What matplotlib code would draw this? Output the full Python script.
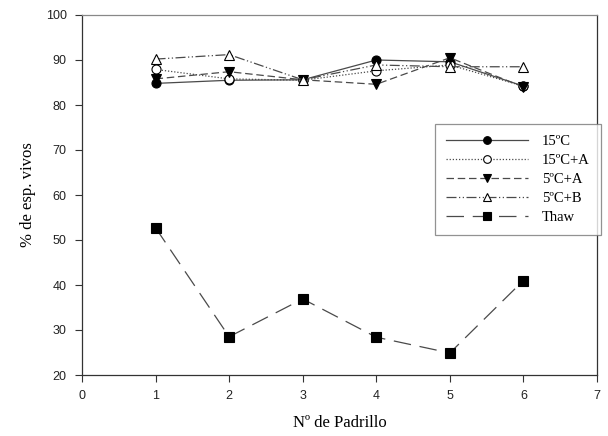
import numpy as np
import matplotlib
matplotlib.use('Agg')
import matplotlib.pyplot as plt

padrillo = [1, 2, 3, 4, 5, 6]

t15 = [84.8, 85.5, 85.6, 90.0, 89.6, 84.2]
t15_a = [87.9, 85.8, 85.5, 87.6, 88.9, 84.2]
t5_a = [85.8, 87.4, 85.6, 84.6, 90.5, 84.0]
t5_b = [90.2, 91.2, 85.6, 88.9, 88.5, 88.5]
thaw = [52.7, 28.5, 36.9, 28.4, 24.9, 41.0]

labels = ['15ºC', '15ºC+A', '5ºC+A', '5ºC+B', 'Thaw']
xticks = list(range(0, 8))
yticks = list(range(20, 101, 10))

line_col = '#4a4a4a'
serif = 'Liberation Serif'
sans = 'Liberation Sans'

fig = plt.figure(figsize=(6.08, 4.36), dpi=100)
ax = fig.add_axes([82 / 608, 1 - 375 / 436, 515 / 608, 360 / 436])

ms = 6.5
styles = [
    (t15, '-', 'o', 'black'),
    (t15_a, (0, (1, 1.5)), 'o', 'white'),
    (t5_a, (0, (6, 3)), 'v', 'black'),
    (t5_b, (0, (8, 2, 1, 2, 1, 2)), '^', 'white'),
    (thaw, (0, (14, 7)), 's', 'black'),
]
for (vals, ls, mk, fc), lab in zip(styles, labels):
    ax.plot(padrillo, vals, linestyle=ls, color=line_col, lw=0.9,
            marker=mk, markersize=ms, markerfacecolor=fc,
            markeredgecolor='black', markeredgewidth=0.8, label=lab)

ax.set_xlim(0, 7)
ax.set_ylim(20, 100)
ax.set_xticks(xticks)
ax.set_yticks(yticks)
ax.tick_params(direction='out', length=5, width=0.8, color='#333333',
               labelsize=9, labelcolor='#222222', right=False, top=False)
for lab in ax.get_xticklabels() + ax.get_yticklabels():
    lab.set_fontfamily(sans)
ax.tick_params(axis='x', pad=6)
ax.tick_params(axis='y', pad=6)

for side in ['left', 'bottom', 'right']:
    ax.spines[side].set_color('#333333')
    ax.spines[side].set_linewidth(0.9)
ax.spines['top'].set_color('#888888')
ax.spines['top'].set_linewidth(0.9)

ax.set_xlabel('Nº de Padrillo', fontfamily=serif, fontsize=12, labelpad=9)
ax.set_ylabel('% de esp. vivos', fontfamily=serif, fontsize=12, labelpad=7)

leg = ax.legend(loc='upper left', bbox_to_anchor=(435 / 608, 1 - 124 / 436),
                bbox_transform=fig.transFigure, frameon=True, fancybox=False,
                prop={'family': serif, 'size': 10.5}, handlelength=5.6,
                handletextpad=1.0, labelspacing=0.4, borderpad=0.75,
                borderaxespad=0, markerscale=0.85)
leg.get_frame().set_edgecolor('#777777')
leg.get_frame().set_linewidth(0.9)
leg.set_clip_on(False)

fig.savefig('out.png', dpi=100)
